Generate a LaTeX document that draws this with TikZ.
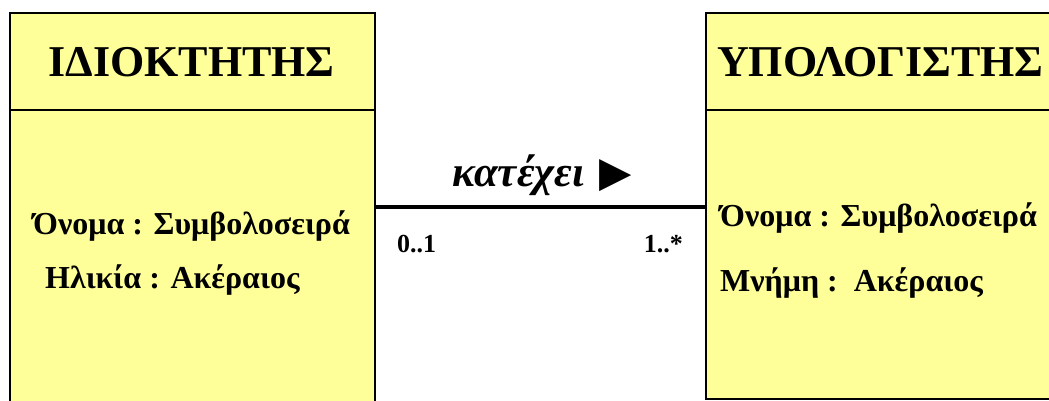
\documentclass[tikz,border=0pt]{standalone}
\usepackage{fontspec}
\setmainfont{Liberation Serif}
\newfontfamily\symfont{DejaVu Sans}
\definecolor{classyellow}{RGB}{255,255,153}
\begin{document}
\begin{tikzpicture}[x=1pt,y=1pt,
  classbox/.style={draw=black, line width=1.6pt, fill=classyellow, inner sep=0pt, anchor=north west},
  titletext/.style={font=\bfseries\fontsize{44}{48}\selectfont, inner sep=0pt},
  attrtext/.style={font=\bfseries\fontsize{32}{34}\selectfont, inner sep=0pt, anchor=base west},
  multtext/.style={font=\bfseries\fontsize{26}{28}\selectfont, inner sep=0pt},
  assoc/.style={draw=black, line width=3.6pt}]
\useasboundingbox (0,0) rectangle (1049,401);
\clip (0,0) rectangle (1049,401);
% left class
\node[classbox, minimum width=365pt, minimum height=420pt] (own) at (9,389) {};
\draw[line width=1.6pt] (9,291) -- (374,291);
\node[titletext] (ownT) at (191.5,339) {ΙΔΙΟΚΤΗΤΗΣ};
\node[attrtext] (ownA) at (33,166) {Όνομα : Συμβολοσειρά};
\node[attrtext] (ownB) at (45,112) {Ηλικία : Ακέραιος};
% right class
\node[classbox, minimum width=380pt, minimum height=386pt] (pc) at (705,389) {};
\draw[line width=1.6pt] (705,291) -- (1090,291);
\node[titletext, anchor=west] (pcT) at (717,339) {ΥΠΟΛΟΓΙΣΤΗΣ};
\node[attrtext] (pcA) at (720,174) {Όνομα : Συμβολοσειρά};
\node[attrtext] (pcB) at (720,109) {Μνήμη :\ \ Ακέραιος};
% association
\coordinate (a1) at (374,194);
\coordinate (a2) at (705,194);
\draw[assoc] (own.east |- a1) -- (pc.west |- a2);
\node[font=\bfseries\itshape\fontsize{43}{46}\selectfont, inner sep=0pt, anchor=base west] (lab) at (452,214) {κατέχει\hspace{15pt}{\symfont\upshape\mdseries\fontsize{42}{44}\selectfont ▶}};
\node[multtext, anchor=base west] (m1) at (397,148) {0..1};
\node[multtext, anchor=base east] (m2) at (683,148) {1..*};
\end{tikzpicture}
\end{document}
